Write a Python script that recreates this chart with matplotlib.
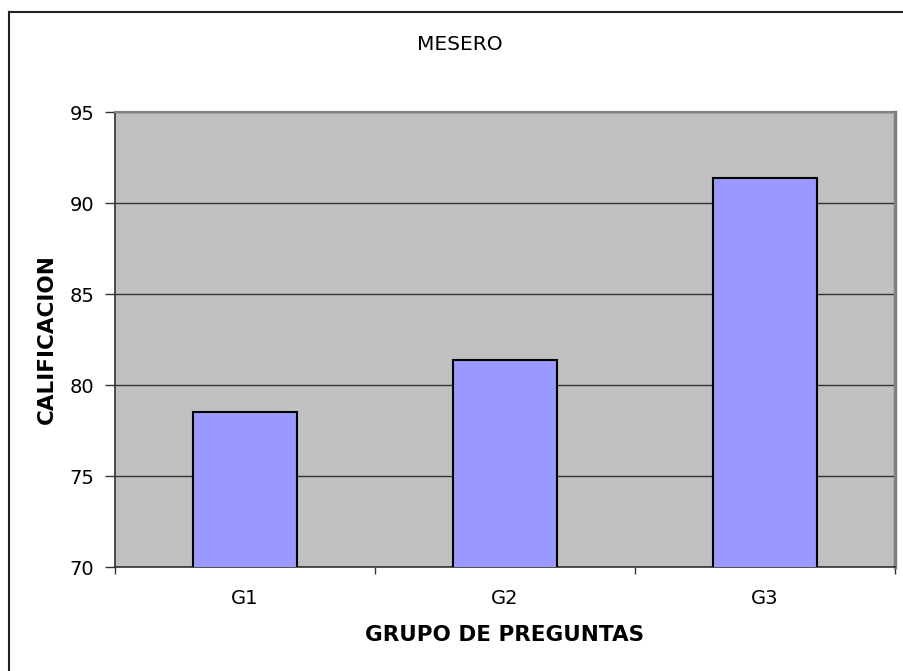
import matplotlib.pyplot as plt
from matplotlib.lines import Line2D
import numpy as np

# data
grupos = ['G1', 'G2', 'G3']
calificacion = [78.5, 81.4, 91.4]
y_ticks = [70, 75, 80, 85, 90, 95]

fig = plt.figure(figsize=(9.04, 6.71), dpi=100, facecolor='w')
ax = fig.add_axes([115/904, 1-567/671, 780/904, 455/671])

x = np.arange(len(grupos))
ax.set_facecolor('#C0C0C0')
ax.bar(x, calificacion, width=0.4, color='#9999FF', edgecolor='black',
       linewidth=1.5, zorder=3)

ax.set_xlim(-0.5, len(grupos)-0.5)
ax.set_ylim(70, 95)
ax.set_yticks(y_ticks)
ax.yaxis.grid(True, color='#333333', linewidth=1.0, zorder=1)
ax.set_axisbelow(True)

# category labels centred, tick marks between categories
ax.set_xticks(x)
ax.set_xticklabels(grupos)
ax.set_xticks(np.arange(-0.5, len(grupos)), minor=True)
ax.tick_params(axis='x', which='major', length=0, labelsize=14, pad=16)
ax.tick_params(axis='x', which='minor', length=5, width=1, color='#333333',
               direction='out')
ax.tick_params(axis='y', length=7, width=1, color='#333333', labelsize=14,
               pad=8)

for s in ['left', 'bottom']:
    ax.spines[s].set_color('#333333')
    ax.spines[s].set_linewidth(1.2)
ax.spines['top'].set_color('#808080')
ax.spines['top'].set_linewidth(1.5)
ax.spines['right'].set_color('#808080')
ax.spines['right'].set_linewidth(2.5)

ax.set_xlabel('GRUPO DE PREGUNTAS', fontsize=15.5, fontweight='bold',
              labelpad=12)
ax.set_ylabel('CALIFICACION', fontsize=15.5, fontweight='bold', labelpad=9)
fig.text(460/904, 1-45/671, 'MESERO', fontsize=14.5, ha='center',
         va='center')

# chart area border (cut off at right and bottom)
fig.add_artist(Line2D([9/904, 9/904], [0, 1-12/671], color='#222222',
                      linewidth=1.5, transform=fig.transFigure))
fig.add_artist(Line2D([9/904, 1], [1-12/671, 1-12/671], color='#222222',
                      linewidth=1.5, transform=fig.transFigure))

fig.savefig('out.png', dpi=100)
